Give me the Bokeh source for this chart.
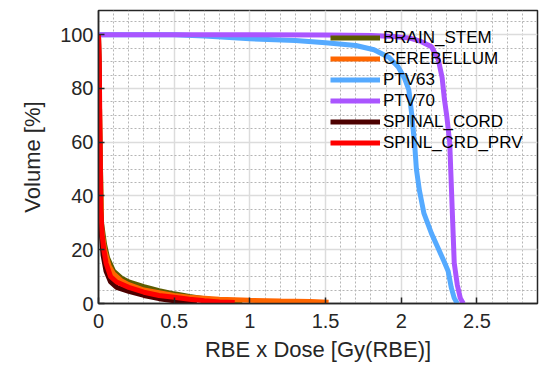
from bokeh.plotting import figure
from bokeh.models import SingleIntervalTicker, Range1d, Legend, LegendItem
from bokeh.embed import file_html
from bokeh.resources import INLINE

names = ["BRAIN_STEM", "CEREBELLUM", "PTV63", "PTV70", "SPINAL_CORD", "SPINL_CRD_PRV"]
colors = ["#5c5c00", "#ff6600", "#55aaff", "#aa55ff", "#4d0000", "#ff0000"]

brain_dose = [0, 0.01, 0.02, 0.04, 0.06, 0.1, 0.15, 0.2, 0.3, 0.4, 0.5, 0.6, 0.7, 0.8, 0.95]
brain_vol = [100, 60, 30, 22, 17, 12, 9.5, 8, 6.3, 4.8, 3.6, 2.6, 1.8, 1.1, 0.5]

cereb_dose = [0, 0.01, 0.02, 0.04, 0.07, 0.1, 0.15, 0.2, 0.3, 0.4, 0.5, 0.6, 0.8, 1.0, 1.2, 1.4, 1.52]
cereb_vol = [100, 60, 28, 20, 14, 11, 8.5, 7, 5, 4, 3, 2.3, 1.6, 1.2, 0.9, 0.7, 0.5]

ptv63_dose = [0, 0.5, 0.7, 1.0, 1.3, 1.5, 1.7, 1.82, 1.92, 1.98, 2.02, 2.05, 2.07, 2.09,
              2.10, 2.12, 2.15, 2.2, 2.24, 2.28, 2.31, 2.33, 2.35, 2.37]
ptv63_vol = [100, 100, 99.5, 98.5, 97.8, 97, 96, 94.4, 91.5, 88, 84, 79.5, 70, 58,
             50, 42, 33.5, 26, 21, 16, 12, 6, 2, 0]

ptv70_dose = [0, 0.5, 1.0, 1.5, 1.8, 1.95, 2.05, 2.13, 2.2, 2.245, 2.27, 2.285, 2.3,
              2.32, 2.33, 2.34, 2.35, 2.37, 2.39, 2.41]
ptv70_vol = [100, 100, 100, 99.9, 99.7, 99.3, 98.8, 97.5, 95.5, 90.7, 84, 76, 70,
             60, 45, 30, 15, 7, 2, 0]

cord_dose = [0, 0.005, 0.01, 0.02, 0.03, 0.05, 0.08, 0.12, 0.2, 0.3, 0.4, 0.5, 0.65]
cord_vol = [100, 80, 40, 25, 18, 12, 8, 6, 4.5, 3, 1.8, 1, 0.3]

prv_dose = [0, 0.005, 0.01, 0.015, 0.025, 0.035, 0.05, 0.08, 0.12, 0.2, 0.3, 0.4,
            0.5, 0.6, 0.7, 0.8, 0.9]
prv_vol = [100, 90, 60, 35, 25, 20, 15, 10, 8, 6, 4.2, 3, 2.3, 1.6, 1.0, 0.6, 0.4]

doses = [brain_dose, cereb_dose, ptv63_dose, ptv70_dose, cord_dose, prv_dose]
vols = [brain_vol, cereb_vol, ptv63_vol, ptv70_vol, cord_vol, prv_vol]

FONT = "Liberation Sans"
TXT = "#262626"

p = figure(width=540, height=373, output_backend="svg", toolbar_location=None,
           x_range=Range1d(0, 2.9), y_range=Range1d(0, 109),
           min_border_left=98, min_border_right=3, min_border_top=10, min_border_bottom=70)
p.background_fill_color = "white"
p.border_fill_color = "white"
p.outline_line_color = TXT
p.outline_line_width = 1.5
p.outline_line_alpha = 1

p.xaxis.ticker = SingleIntervalTicker(interval=0.5, num_minor_ticks=5)
p.yaxis.ticker = SingleIntervalTicker(interval=20, num_minor_ticks=4)

for ax in (p.xaxis[0], p.yaxis[0]):
    ax.axis_line_color = TXT
    ax.axis_line_width = 1.5
    ax.major_tick_in = 6
    ax.major_tick_out = 0
    ax.major_tick_line_color = TXT
    ax.major_tick_line_width = 1.5
    ax.minor_tick_in = 0
    ax.minor_tick_out = 0
    ax.major_label_text_font = FONT
    ax.major_label_text_font_size = "20px"
    ax.major_label_text_color = TXT
    ax.axis_label_text_font = FONT
    ax.axis_label_text_font_size = "22px"
    ax.axis_label_text_font_style = "normal"
    ax.axis_label_text_color = TXT

p.xaxis.axis_label = "RBE x Dose [Gy(RBE)]"
p.yaxis.axis_label = "Volume [%]"
p.xaxis.major_label_standoff = 10
p.yaxis.major_label_standoff = 5
p.xaxis.axis_label_standoff = 6
p.yaxis.axis_label_standoff = 12

for g in (p.xgrid[0], p.ygrid[0]):
    g.grid_line_color = "#dcdcdc"
    g.grid_line_width = 1.5
    g.minor_grid_line_color = "#b5b5b5"
    g.minor_grid_line_width = 1
    g.minor_grid_line_dash = "2 2"

items = []
for name, c, d, v in zip(names, colors, doses, vols):
    r = p.line(d, v, line_color=c, line_width=5)
    items.append(LegendItem(label=name, renderers=[r]))

legend = Legend(items=items, location=(232, 150))
legend.background_fill_alpha = 0
legend.border_line_alpha = 0
legend.padding = 0
legend.margin = 0
legend.spacing = 0
legend.glyph_width = 50
legend.glyph_height = 21
legend.label_height = 21
legend.label_standoff = 3
legend.label_text_font = FONT
legend.label_text_font_size = "17px"
legend.label_text_color = "#000000"
p.add_layout(legend, "center")

open("out.html", "w").write(file_html(p, INLINE))
